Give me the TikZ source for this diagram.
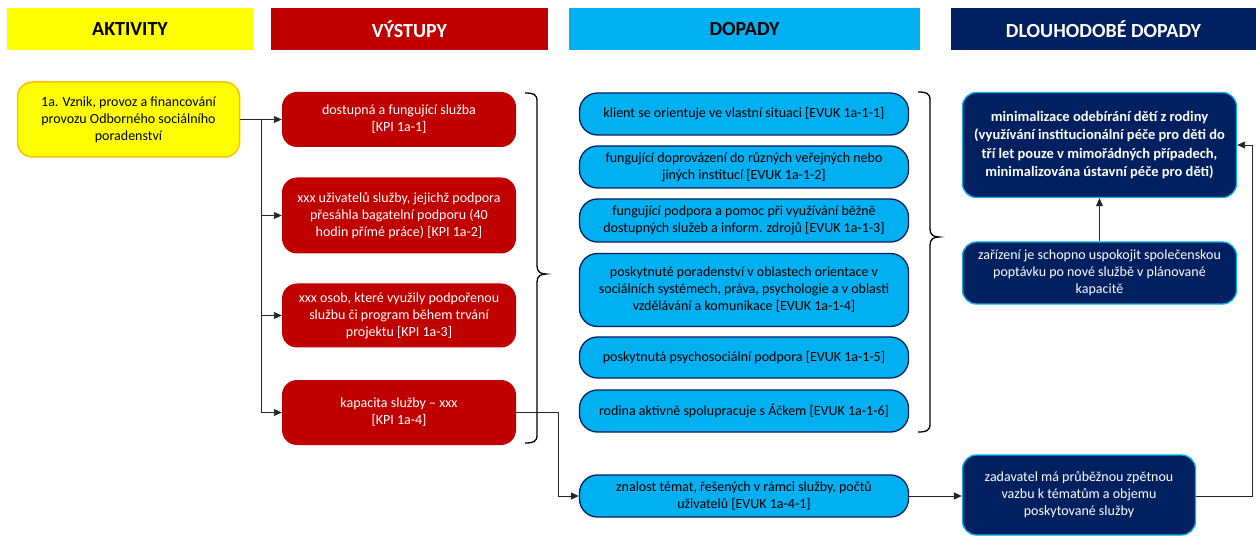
\documentclass[tikz,border=0pt]{standalone}
\usepackage{fontspec}
\setmainfont{Carlito}
\usetikzlibrary{arrows.meta}

\definecolor{actyellow}{HTML}{FFFF00}
\definecolor{actborder}{HTML}{FFC000}
\definecolor{outred}{HTML}{C00000}
\definecolor{impblue}{HTML}{00B0F0}
\definecolor{navy}{HTML}{002060}

\tikzset{
  base/.style={align=center, inner sep=2pt, font=\fontsize{14}{17}\selectfont},
  header/.style={align=center, minimum height=42pt, font=\fontsize{20}{24}\selectfont\bfseries},
  actbox/.style={base, fill=actyellow, draw=actborder, line width=1.5pt, rounded corners=15pt},
  outbox/.style={base, fill=outred, text=white, rounded corners=15pt},
  impbox/.style={base, fill=impblue, draw=navy, line width=1.3pt, rounded corners=18pt},
  ltbox/.style={base, fill=navy, draw=impblue, line width=1.3pt, text=white, rounded corners=14pt},
  link/.style={draw=black!85, line width=0.9pt},
  arr/.style={link, -{Triangle[length=8pt,width=7pt]}},
  bracket/.style={draw=black, line width=1.3pt},
}

\begin{document}
\begin{tikzpicture}[x=1pt, y=-1pt]
\useasboundingbox (0,0) rectangle (1256,537);

% column headers
\node[header, fill=actyellow, minimum width=246pt] (hAkt) at (130,29) {AKTIVITY};
\node[header, fill=outred, text=white, minimum width=277pt] (hVys) at (409.5,29) {VÝSTUPY};
\node[header, fill=impblue, minimum width=351pt] (hDop) at (744.5,29) {DOPADY};
\node[header, fill=navy, text=white, minimum width=305pt] (hDlo) at (1103.5,29) {DLOUHODOBÉ DOPADY};

% activity
\node[actbox, minimum width=222pt, minimum height=75pt] (act) at (128.5,119.5)
  {1a. Vznik, provoz a financování\\provozu Odborného sociálního\\poradenství};

% outputs
\node[outbox, minimum width=234pt, minimum height=55pt] (r1) at (399,119.5)
  {dostupná a fungující služba\\{}[KPI 1a-1]};
\node[outbox, minimum width=234pt, minimum height=76pt] (r2) at (399,215.5)
  {xxx uživatelů služby, jejichž podpora\\přesáhla bagatelní podporu (40\\hodin přímé práce) [KPI 1a-2]};
\node[outbox, minimum width=234pt, minimum height=64pt] (r3) at (399,315.5)
  {xxx osob, které využily podpořenou\\službu či program během trvání\\projektu [KPI 1a-3]};
\node[outbox, minimum width=234pt, minimum height=65pt] (r4) at (399,412.5)
  {kapacita služby – xxx\\{}[KPI 1a-4]};

% impacts
\node[impbox, minimum width=329pt, minimum height=42pt] (b1) at (744,114)
  {klient se orientuje ve vlastní situaci [EVUK 1a-1-1]};
\node[impbox, minimum width=329pt, minimum height=42pt] (b2) at (744,167)
  {fungující doprovázení do různých veřejných nebo\\jiných institucí [EVUK 1a-1-2]};
\node[impbox, minimum width=329pt, minimum height=43pt] (b3) at (744,220.5)
  {fungující podpora a pomoc při využívání běžně\\dostupných služeb a inform. zdrojů [EVUK 1a-1-3]};
\node[impbox, minimum width=329pt, minimum height=73pt] (b4) at (744,290)
  {poskytnuté poradenství v oblastech orientace v\\sociálních systémech, práva, psychologie a v oblasti\\vzdělávání a komunikace [EVUK 1a-1-4]};
\node[impbox, minimum width=329pt, minimum height=41pt] (b5) at (744,357.5)
  {poskytnutá psychosociální podpora [EVUK 1a-1-5]};
\node[impbox, minimum width=329pt, minimum height=42pt] (b6) at (744,411)
  {rodina aktivně spolupracuje s Áčkem [EVUK 1a-1-6]};
\node[impbox, minimum width=329pt, minimum height=42pt] (b7) at (744,496)
  {znalost témat, řešených v rámci služby, počtů\\uživatelů [EVUK 1a-4-1]};

% long-term impacts
\node[ltbox, minimum width=274pt, minimum height=105pt, font=\fontsize{14.5}{18.5}\selectfont\bfseries] (d1) at (1099.5,145)
  {minimalizace odebírání dětí z rodiny\\(využívání institucionální péče pro děti do\\tří let pouze v mimořádných případech,\\minimalizována ústavní péče pro děti)};
\node[ltbox, minimum width=274pt, minimum height=62pt] (d2) at (1099.5,273)
  {zařízení je schopno uspokojit společenskou\\poptávku po nové službě v plánované\\kapacitě};
\node[ltbox, minimum width=233pt, minimum height=80pt] (d3) at (1079,495)
  {zadavatel má průběžnou zpětnou\\vazbu k tématům a objemu\\poskytované služby};

% connectors
\coordinate (split) at (261,119.5);
\coordinate (drop) at (558,412.5);
\coordinate (loop) at (1252,145);
\draw[arr] (act.east) -- (r1.west);
\draw[arr] (split) |- (r2.west);
\draw[arr] (split) |- (r3.west);
\draw[arr] (split) |- (r4.west);
\draw[arr] (r4.east) -- (drop) |- (b7.west);
\draw[arr] (b7.east) -- (b7.east -| d3.west);
\draw[arr] (d3.east |- b7.east) -| (loop) -- (d1.east);
\draw[arr] (d2.north) -- (d1.south);

% braces grouping the outputs and the impacts
\draw[bracket] (525,93) .. controls (533,93) and (537,94) .. (537,101) -- (537,266)
  .. controls (537,272) and (541,274) .. (546,274)
  .. controls (541,274) and (537,276) .. (537,282) -- (537,435)
  .. controls (537,442) and (533,443) .. (525,443);
\draw[bracket] (918,92) .. controls (926,92) and (930,93) .. (930,100) -- (930,229)
  .. controls (930,235) and (934,237) .. (939,237)
  .. controls (934,237) and (930,239) .. (930,245) -- (930,424)
  .. controls (930,431) and (926,432) .. (918,432);
\end{tikzpicture}
\end{document}
